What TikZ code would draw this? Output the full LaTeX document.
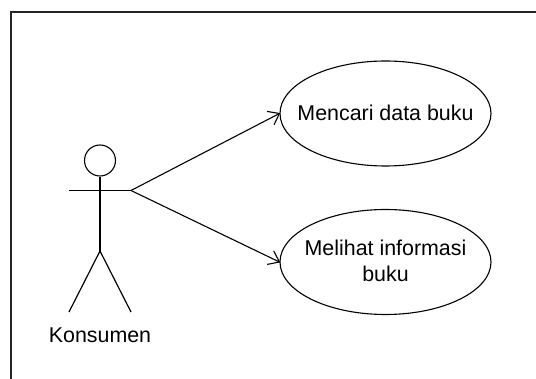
\documentclass[tikz,border=0pt]{standalone}
\usepackage{fontspec}
\setmainfont{Liberation Sans}
\usetikzlibrary{shapes.geometric,arrows.meta}
\pgfdeclarearrow{
  name=OpenVee,
  setup code={
    \pgfarrowssettipend{0pt}
    \pgfarrowssetlineend{-0.5pt}
    \pgfarrowssetvisualbackend{-10pt}
    \pgfarrowssetbackend{-10pt}
    \pgfarrowshullpoint{-10pt}{7.5pt}
    \pgfarrowshullpoint{-10pt}{-7.5pt}
    \pgfarrowshullpoint{0pt}{0pt}
  },
  drawing code={
    \pgfsetdash{}{0pt}
    \pgfsetlinewidth{1.1pt}
    \pgfpathmoveto{\pgfqpoint{-10pt}{7.5pt}}
    \pgfpathlineto{\pgfqpoint{0pt}{0pt}}
    \pgfpathlineto{\pgfqpoint{-10pt}{-7.5pt}}
    \pgfusepathqstroke
  }
}
\tikzset{
  x=1pt,y=-1pt,
  usecase/.style={ellipse,draw,line width=1.1pt,minimum width=211pt,minimum height=105pt,inner sep=0pt},
  uctext/.style={inner sep=0pt,align=center,font=\fontsize{21.4}{25.5}\selectfont},
  stick/.style={line width=1.2pt},
  assoc/.style={line width=1.1pt,-{OpenVee}},
  actorlabel/.style={inner sep=0pt,font=\fontsize{21.4}{25.5}\selectfont},
  framebox/.style={line width=1.5pt,draw=black!85}
}
\begin{document}
\begin{tikzpicture}
\useasboundingbox (0,0) rectangle (536,379);
% frame, cut off by the page at right and bottom
\coordinate (frameBL) at (11,379);
\coordinate (frameTL) at (11,12);
\coordinate (frameTR) at (536,12);
\draw[framebox] (frameBL) -- (frameTL) -- (frameTR);
% actor
\node[circle,draw,line width=1.1pt,minimum size=31pt,inner sep=0pt] (head) at (100,160.5) {};
\coordinate (armL) at (69,190.5);
\coordinate (armR) at (131,190.5);
\coordinate (neck) at (100,190.5);
\coordinate (hip) at (100,251);
\coordinate (footL) at (69,312);
\coordinate (footR) at (131,312);
\draw[stick] (head.south) -- (neck) -- (hip);
\draw[stick] (armL) -- (armR);
\draw[stick] (footL) -- (hip) -- (footR);
\node[actorlabel] (actor) at (100,335) {Konsumen};
% use cases
\node[usecase] (uc1) at (385.5,113.5) {};
\node[uctext] (uc1text) at (385.5,112.5) {Mencari data buku};
\node[usecase] (uc2) at (385.5,262) {};
\node[uctext] (uc2text) at (385.5,261) {Melihat informasi\\buku};
% associations
\draw[assoc] (armR) -- (uc1.west);
\draw[assoc] (armR) -- (uc2.west);
\end{tikzpicture}
\end{document}
